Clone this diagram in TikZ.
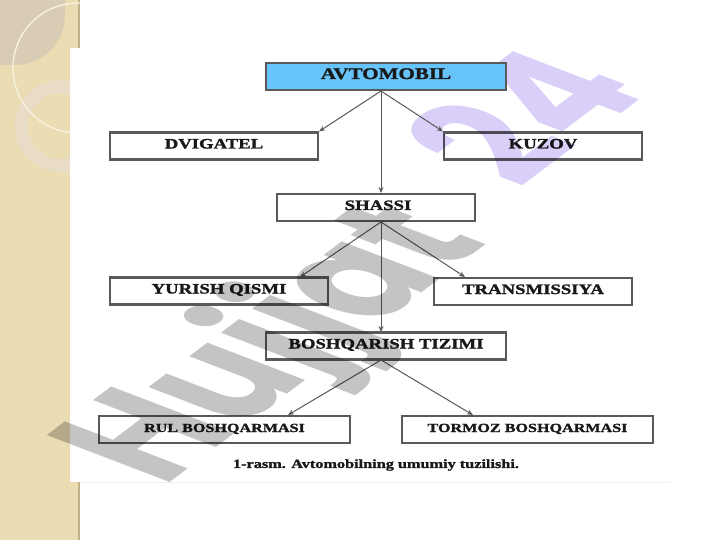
\documentclass[tikz,border=0pt]{standalone}
\usepackage{fontspec}
\setmainfont{Liberation Serif}[FakeStretch=1.3,BoldFont={Liberation Serif Bold},BoldFeatures={FakeStretch=1.3,FakeBold=1.6}]
\newfontfamily\wmfont{Poppins}
\usetikzlibrary{arrows.meta}
\definecolor{stripbg}{HTML}{EBDCB4}
\definecolor{stripedge}{HTML}{C2B28C}
\definecolor{cornerbg}{HTML}{D8CDB4}
\definecolor{ringbg}{HTML}{E9DCC6}
\definecolor{arcline}{HTML}{F8F2DC}
\definecolor{boxline}{HTML}{5A5A5A}
\definecolor{headfill}{HTML}{66C4FA}
\definecolor{wmgray}{HTML}{C4C4C4}
\definecolor{wmlilac}{HTML}{DACFF9}
\tikzset{
  blockbox/.style={draw=boxline,line width=2.2pt,fill=white,inner sep=0pt,minimum height=27pt,text height=10pt,text depth=5pt,font=\bfseries\fontsize{14.4}{16}\selectfont,text=black!90},
  smallbox/.style={blockbox,font=\bfseries\fontsize{12.4}{14}\selectfont},
  linkarrow/.style={draw=black!65,line width=1pt,-{Stealth[length=6pt,width=5pt]}},
  wmark/.style={font=\wmfont\bfseries\fontsize{100}{100}\selectfont,inner sep=0pt,anchor=base west,transform shape,blend mode=multiply}
}
\begin{document}
\begin{tikzpicture}[x=1pt,y=-1pt]
\useasboundingbox (0,0) rectangle (720,540);
% background
\fill[white] (0,0) rectangle (720,540);
\fill[stripbg] (0,0) rectangle (80,540);
\begin{scope}
\clip (0,0) rectangle (80,65);
\fill[cornerbg] (15,15) circle (50);
\fill[cornerbg] (0,15) rectangle (15,65);
\fill[cornerbg] (0,0) rectangle (65,15);
\end{scope}
\fill[stripedge] (78,0) rectangle (80,48);
\fill[stripedge] (78,482) rectangle (80,540);
\draw[ringbg,line width=13pt] (61,126) circle (39.5);
\draw[arcline,line width=1.4pt] (78,68) circle (65);
\fill[white] (70,48) rectangle (80,482);
\fill[white] (80,0) rectangle (720,540);
\draw[black!6,line width=.6pt] (80,482) -- (670,482);
% boxes
\node[blockbox,minimum width=208pt] (dvig) at (214,146) {DVIGATEL};
\node[blockbox,minimum width=198pt] (kuzov) at (543,146) {KUZOV};
\node[blockbox,minimum width=198pt] (shassi) at (376,207.5) {\hspace{4pt}SHASSI};
\node[blockbox,minimum width=218pt] (yurish) at (219,291) {YURISH QISMI};
\node[blockbox,minimum width=198pt] (trans) at (533,291.5) {TRANSMISSIYA};
\node[blockbox,minimum width=240pt] (bosh) at (386,346) {BOSHQARISH TIZIMI};
\node[smallbox,minimum width=251pt] (rul) at (224.5,429.5) {RUL BOSHQARMASI};
\node[smallbox,minimum width=251pt] (tormoz) at (527.5,429.5) {TORMOZ BOSHQARMASI};
\node[font=\bfseries\fontsize{12.5}{14}\selectfont,text=black!90,inner sep=0pt] (cap) at (376,465) {1-rasm. Avtomobilning umumiy tuzilishi.};
% watermark, lilac part
\begin{scope}[cm={1.06,.80,-1.75,.67,(520,190)}]
\node[wmark,text=wmlilac] (wmn) at (0,0) {24};
\end{scope}
\node[blockbox,fill=headfill,minimum width=240pt,font=\bfseries\fontsize{16.2}{18}\selectfont] (avto) at (386,76.5) {AVTOMOBIL};
% connector ends
\coordinate (avout) at (381,91);
\coordinate (shin) at (381,193);
\coordinate (shout) at (381,222);
\coordinate (yurin) at (300,277);
\coordinate (trin) at (465,277);
\coordinate (boin) at (381,332);
\coordinate (boout) at (381,360);
\coordinate (rulin) at (288,415);
\coordinate (torin) at (473,415);
\draw[linkarrow] (avout) -- (dvig.north east);
\draw[linkarrow] (avout) -- (kuzov.north west);
\draw[linkarrow] (avout) -- (shin);
\draw[linkarrow] (shout) -- (yurin);
\draw[linkarrow] (shout) -- (trin);
\draw[linkarrow] (shout) -- (boin);
\draw[linkarrow] (boout) -- (rulin);
\draw[linkarrow] (boout) -- (torin);
% watermark, gray part
\begin{scope}[cm={1.06,.80,-1.75,.67,(163,488)}]
\node[wmark,text=wmgray] (wmh) at (0,0) {Hujjat};
\end{scope}
\end{tikzpicture}
\end{document}
